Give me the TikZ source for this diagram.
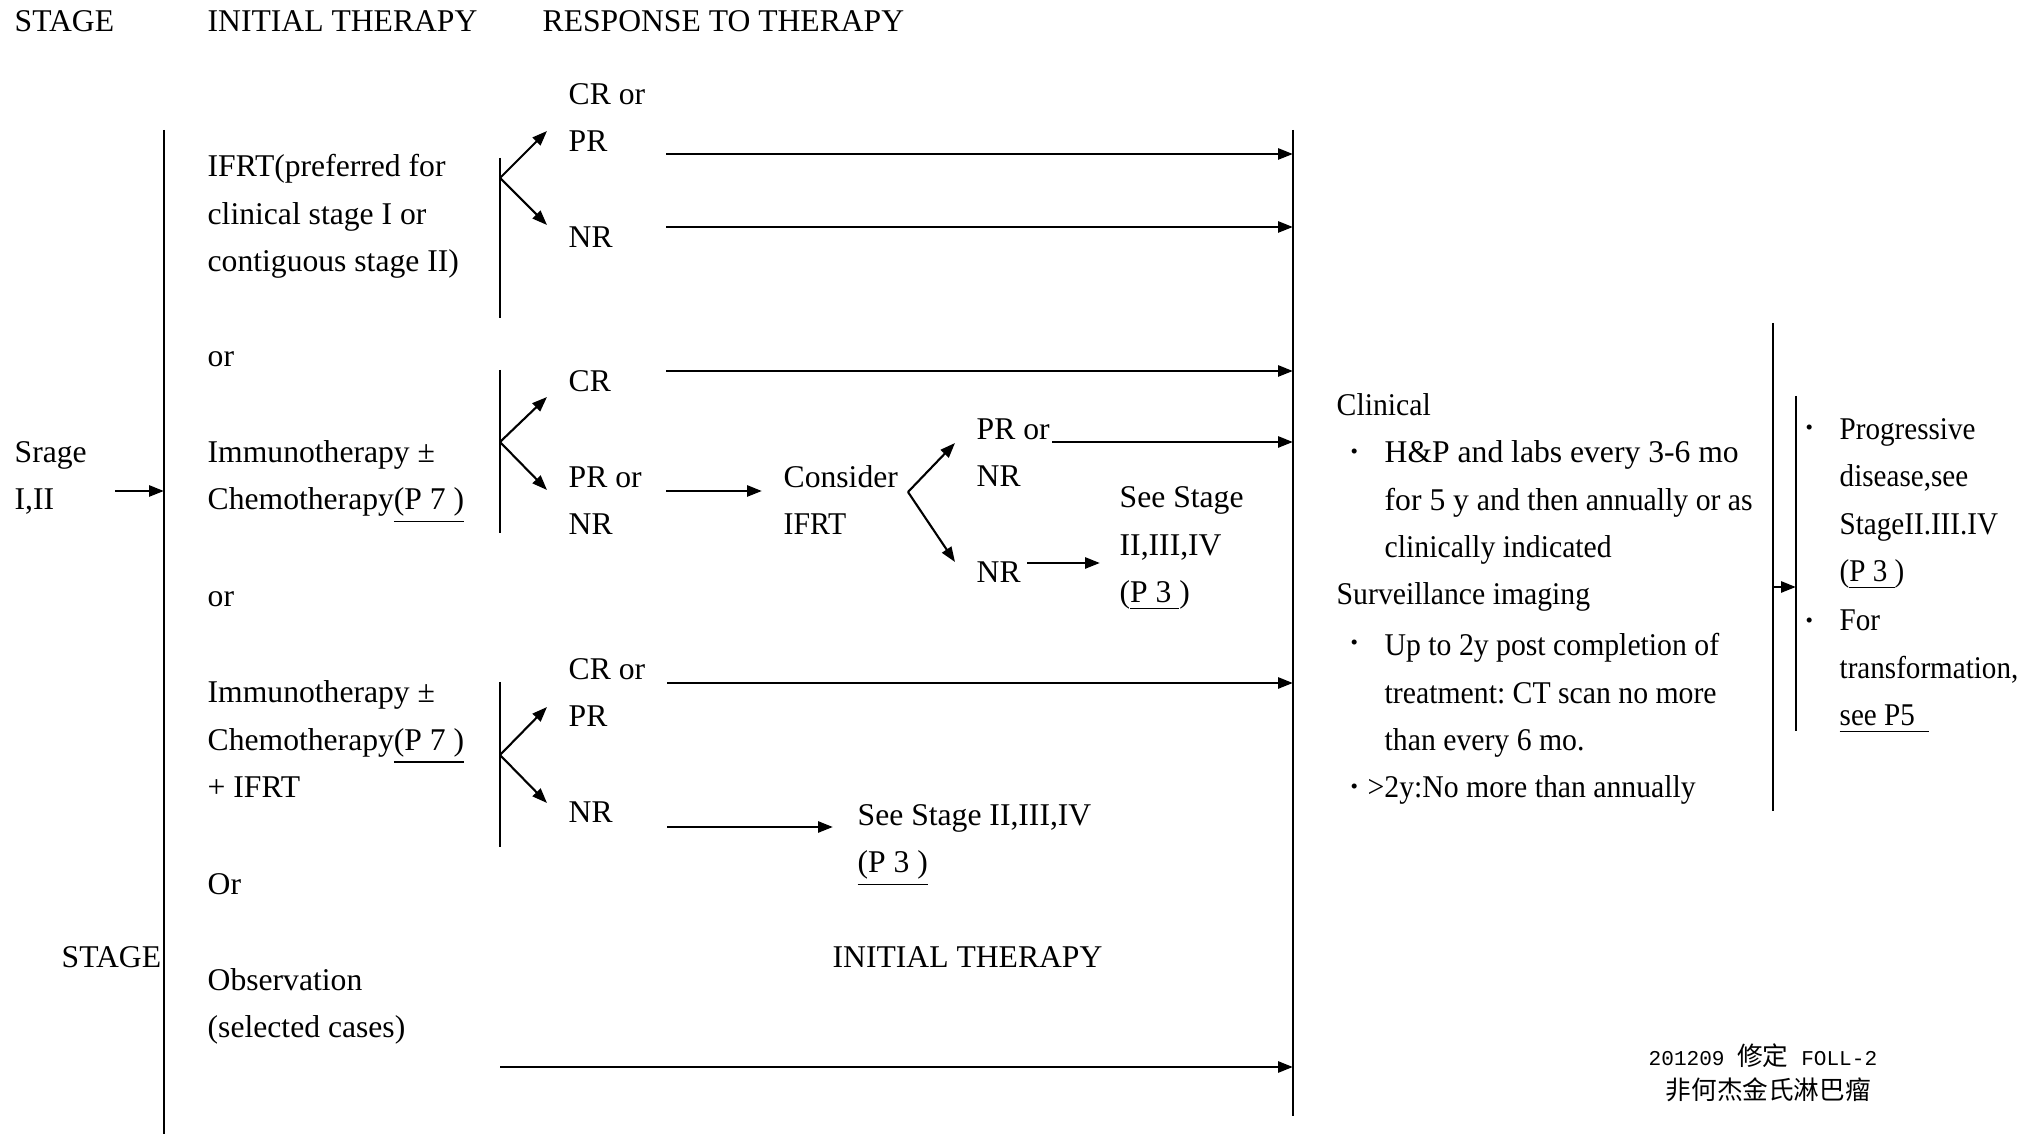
\documentclass[tikz,border=0pt]{standalone}
\usepackage{fontspec}
\setmainfont{Liberation Serif}
\newfontfamily\lightfont[FakeStretch=0.94]{Liberation Serif}
\newfontfamily\slimfont[FakeStretch=0.92]{Liberation Serif}
\newfontfamily\cjkfont{Noto Sans CJK TC}
\newfontfamily\monofont{Liberation Mono}
\usepackage{tikz}
\usetikzlibrary{arrows.meta}
\frenchspacing
\tikzset{
    % text blocks, placed by the baseline of their last line
    txt/.style={
        anchor=base west, inner sep=0pt, align=left,
        font=\fontsize{9pt}{13.55pt}\selectfont
    },
    % narrower text of the follow-up notes
    lighttxt/.style={txt, font=\fontsize{9pt}{13.55pt}\lightfont},
    slimtxt/.style={txt, font=\fontsize{9pt}{13.55pt}\slimfont},
    % small bullet marks
    dot/.style={anchor=base west, inner sep=0pt, font=\fontsize{6pt}{6pt}\selectfont},
    % vertical brackets
    bar/.style={line width=0.45pt},
    % straight flow arrows
    flow/.style={line width=0.75pt, -{Triangle[length=1.5mm,width=1.1mm]}},
    % forking arrows
    fork/.style={line width=0.6pt, -{Triangle[length=1.5mm,width=1.1mm]}},
}

\begin{document}
\begin{tikzpicture}[x=0.1mm, y=-0.1mm]
  \useasboundingbox (0,0) rectangle (2035,1134);

  % --- column heads ---
  \node[txt] (headStage) at (14,32) {STAGE};
  \node[txt] (headInit) at (207,32) {INITIAL THERAPY};
  \node[txt] (headResp) at (542,32) {RESPONSE TO THERAPY};
  \node[txt] (footStage) at (61,967) {STAGE};
  \node[txt] (footInit) at (832,967) {INITIAL THERAPY};

  % --- stage and main brackets ---
  \node[txt] (stage) at (14,510) {Srage\\I,II};
  \coordinate (ltop) at (164,130);
  \coordinate (lbot) at (164,1134);
  \coordinate (rtop) at (1293,130);
  \coordinate (rbot) at (1293,1116);
  \coordinate (stageEnd) at (115,491);
  \draw[bar] (ltop) -- (lbot);
  \draw[bar] (rtop) -- (rbot);
  \draw[flow] (stageEnd) -- (stageEnd -| ltop);

  % --- initial therapies ---
  \node[txt] (ifrt) at (207,272) {IFRT(preferred for\\clinical stage I or\\contiguous stage II)};
  \node[txt] (orA) at (207,367) {or};
  \node[txt] (immA) at (207,510) {Immunotherapy ±\\Chemotherapy\underline{(P 7 )}};
  \node[txt] (orB) at (207,607) {or};
  \node[txt] (immB) at (207,798) {Immunotherapy ±\\Chemotherapy\underline{(P 7 )}\\+ IFRT};
  \node[txt] (orC) at (207,895) {Or};
  \node[txt] (obs) at (207,1038) {Observation\\(selected cases)};

  % --- forks ---
  \foreach \n/\t/\b/\m/\u/\d in {1/158/318/178/131/225, 2/370/533/442/397/490, 3/682/847/755/707/803}{
    \coordinate (barT\n) at (500,\t);
    \coordinate (barB\n) at (500,\b);
    \coordinate (fork\n) at (500,\m);
    \coordinate (up\n) at (547,\u);
    \coordinate (dn\n) at (547,\d);
    \draw[bar] (barT\n) -- (barB\n);
    \draw[fork] (fork\n) -- (up\n);
    \draw[fork] (fork\n) -- (dn\n);
  }

  % --- responses ---
  \node[txt] (crprA) at (568,152) {CR or\\PR};
  \node[txt] (nrA) at (568,248) {NR};
  \node[txt] (crB) at (568,392) {CR};
  \node[txt] (prnrB) at (568,535) {PR or\\NR};
  \node[txt] (crprC) at (568,727) {CR or\\PR};
  \node[txt] (nrC) at (568,823) {NR};

  \coordinate (rA1) at (666,154);
  \coordinate (rA2) at (666,227);
  \coordinate (rB1) at (666,371);
  \coordinate (rB2) at (666,491);
  \coordinate (rB2e) at (762,491);
  \coordinate (rC1) at (667,683);
  \coordinate (rC2) at (667,827);
  \coordinate (rC2e) at (833,827);
  \coordinate (rObs) at (500,1067);
  \draw[flow] (rA1) -- (rA1 -| rtop);
  \draw[flow] (rA2) -- (rA2 -| rtop);
  \draw[flow] (rB1) -- (rB1 -| rtop);
  \draw[flow] (rB2) -- (rB2e);
  \draw[flow] (rC1) -- (rC1 -| rtop);
  \draw[flow] (rC2) -- (rC2e);
  \draw[flow] (rObs) -- (rObs -| rtop);

  % --- consider IFRT ---
  \node[txt] (consider) at (783,535) {Consider\\{\lightfont IFRT}};
  \coordinate (forkD) at (908,492);
  \coordinate (upD) at (955,443);
  \coordinate (dnD) at (955,562);
  \draw[fork] (forkD) -- (upD);
  \draw[fork] (forkD) -- (dnD);
  \node[txt] (prnrD) at (976,487) {PR or\\NR};
  \node[txt] (nrD) at (976,583) {NR};
  \coordinate (rD1) at (1052,442);
  \coordinate (rD2) at (1027,563);
  \coordinate (rD2e) at (1100,563);
  \draw[flow] (rD1) -- (rD1 -| rtop);
  \draw[flow] (rD2) -- (rD2e);
  \node[txt] (seeD) at (1119,603) {See Stage\\II,III,IV\\(\underline{P 3\ })};
  \node[txt] (seeC) at (857,873) {See Stage II,III,IV\\\underline{(P 3 )}};

  % --- follow-up ---
  \node[lighttxt] (clin) at (1336,416) {Clinical};
  \node[dot] (dotA) at (1350,459) {•};
  \node[txt] (clinA) at (1384,558)
    {H\&P and labs every 3-6 mo\\for 5 y {\lightfont and then annually or as}\\{\lightfont clinically indicated}};
  \node[lighttxt] (surv) at (1336,605) {Surveillance imaging};
  \node[dot] (dotB) at (1350,650) {•};
  \node[lighttxt] (survA) at (1384,751) {Up to 2y post completion of\\treatment: CT scan no more\\than every 6 mo.};
  \node[dot] (dotC) at (1350,794) {•};
  \node[lighttxt] (survB) at (1367,798) {>2y:No more than annually};

  % --- relapse ---
  \coordinate (oTop) at (1773,323);
  \coordinate (oBot) at (1773,811);
  \coordinate (iTop) at (1796,396);
  \coordinate (iBot) at (1796,731);
  \coordinate (relapse) at (1773,587);
  \draw[bar] (oTop) -- (oBot);
  \draw[bar] (iTop) -- (iBot);
  \draw[flow] (relapse) -- (relapse -| iTop);
  \node[dot] (dotD) at (1805,435) {•};
  \node[slimtxt] (prog) at (1839,582) {Progressive\\disease,see\\StageII.III.IV\\(\underline{P 3\ })};
  \node[dot] (dotE) at (1805,628) {•};
  \node[slimtxt] (transf) at (1839,726) {For\\transformation,\\\underline{see P5\ \ }};

  % --- revision note ---
  \node[anchor=base west, inner sep=0pt] (rev) at (1648,1065)
    {{\monofont\fontsize{6pt}{7pt}\selectfont 201209 }{\cjkfont\fontsize{7.3pt}{8pt}\selectfont 修定}{\monofont\fontsize{6pt}{7pt}\selectfont\ FOLL-2}};
  \node[anchor=west, inner sep=0pt] (title) at (1665,1090)
    {\cjkfont\fontsize{7.3pt}{8pt}\selectfont 非何杰金氏淋巴瘤};
\end{tikzpicture}
\end{document}
